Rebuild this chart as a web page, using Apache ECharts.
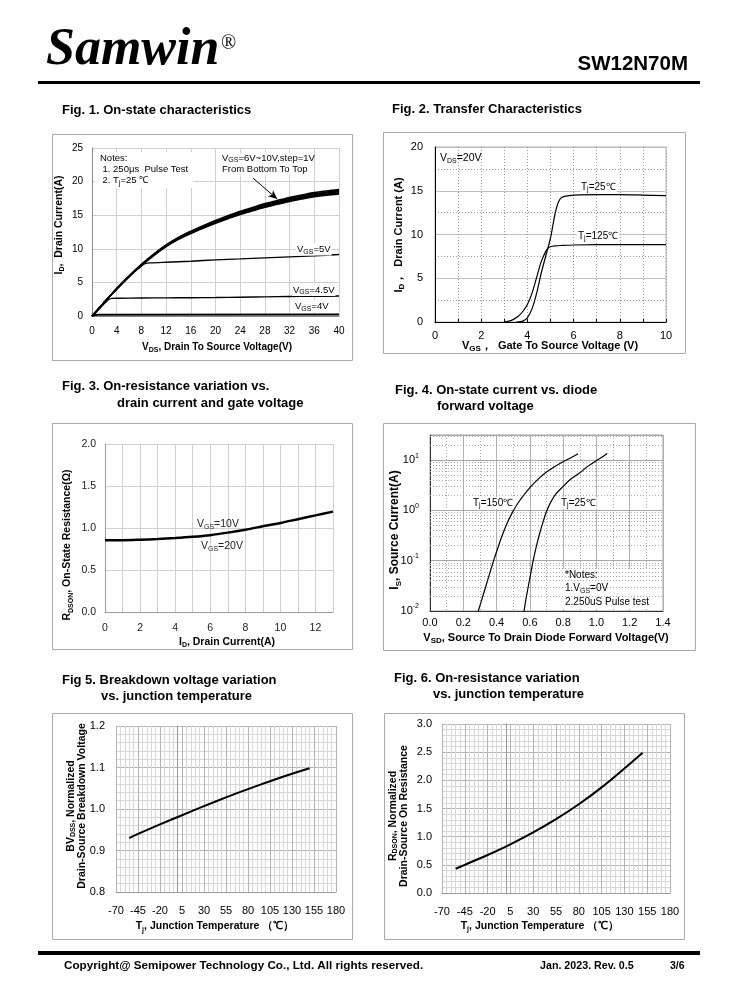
<!DOCTYPE html>
<html><head><meta charset="utf-8">
<script src="https://cdn.jsdelivr.net/npm/echarts/dist/echarts.min.js"></script>
<style>html,body{margin:0;padding:0;background:#fff}#c{width:738px;height:1000px}</style>
</head><body><div id="c"></div>
<script>
const FONT = 'Liberation Sans';
// ---------- Fig 1: On-state characteristics ----------
const f1Vds = [0,1,2,3,4,6,8,10,12,14,16,18,20,22,24,26,28,30,32,34,36,38,40];
const f1Vgs6  = [0,1.0,2.05,3.05,4.03,5.86,7.53,9.0,10.33,11.41,12.29,13.07,13.8,14.48,15.12,15.65,16.18,16.62,17.06,17.4,17.74,17.99,18.18];
const f1Vgs7  = [0,1.0,2.05,3.05,4.04,5.88,7.57,9.05,10.39,11.48,12.37,13.16,13.9,14.59,15.23,15.77,16.31,16.76,17.2,17.55,17.9,18.14,18.34];
const f1Vgs8  = [0,1.0,2.05,3.05,4.05,5.9,7.6,9.1,10.45,11.55,12.45,13.25,14.0,14.7,15.35,15.9,16.45,16.9,17.35,17.7,18.05,18.3,18.5];
const f1Vgs9  = [0,1.0,2.05,3.05,4.06,5.92,7.63,9.15,10.51,11.62,12.53,13.34,14.1,14.81,15.47,16.03,16.59,17.04,17.5,17.85,18.2,18.46,18.66];
const f1Vgs10 = [0,1.0,2.05,3.05,4.07,5.94,7.67,9.2,10.57,11.69,12.61,13.43,14.2,14.92,15.58,16.15,16.72,17.18,17.64,18.0,18.36,18.61,18.82];
const f1Vds5 = [0,2,4,6,8,8.6,9.5,12,16,20,24,28,32,36,40];
const f1Vgs5 = [0,2.05,4.0,5.85,7.45,7.8,7.9,8.0,8.15,8.35,8.5,8.65,8.8,8.95,9.15];
const f1Vds45 = [0,1,2,2.6,3.2,4,8,12,16,20,24,28,32,36,40];
const f1Vgs45 = [0,0.9,1.85,2.4,2.62,2.65,2.68,2.7,2.72,2.75,2.8,2.85,2.9,2.93,2.97];
const f1Vds4 = [0,0.5,1,40];
const f1Vgs4 = [0,0.15,0.2,0.22];
const f1Arrow = [[26.1,20.5],[30.0,17.4]];
// ---------- Fig 2: Transfer characteristics ----------
const f2Vgs25 = [3.54,3.8,4.0,4.2,4.4,4.6,4.8,5.0,5.1,5.2,5.3,5.4,5.5,5.6,5.8,6.0,7,8,9,10];
const f2Id25  = [0,0.1,0.5,1.5,3.3,5.6,7.6,9.6,11.0,12.4,13.4,14.0,14.25,14.35,14.45,14.5,14.55,14.55,14.5,14.45];
const f2Vgs125 = [2.99,3.2,3.4,3.6,3.8,4.0,4.2,4.4,4.6,4.8,4.9,5.0,5.2,5.5,6,8,10];
const f2Id125  = [0,0.1,0.3,0.65,1.2,2.0,3.3,5.1,6.9,8.1,8.45,8.6,8.7,8.75,8.8,8.85,8.85];
// ---------- Fig 3: Rdson vs Id ----------
const f3Id = [0,1,2,3,4,5,6,7,8,9,10,11,12,13];
const f3R  = [0.855,0.855,0.86,0.868,0.88,0.895,0.915,0.945,0.98,1.02,1.06,1.105,1.15,1.195];
// ---------- Fig 4: diode forward ----------
const f4V150 = [0.29,0.32,0.35,0.38,0.41,0.44,0.47,0.50,0.53,0.56,0.60,0.65,0.70,0.75,0.80,0.85,0.89];
const f4I150 = [0.01,0.021,0.045,0.095,0.19,0.36,0.62,0.98,1.42,1.95,2.85,4.2,5.8,7.5,9.3,11.3,13.4];
const f4V25 = [0.565,0.58,0.60,0.62,0.64,0.66,0.68,0.70,0.72,0.75,0.80,0.85,0.90,0.95,1.00,1.05,1.065];
const f4I25 = [0.01,0.02,0.045,0.1,0.2,0.36,0.6,0.95,1.35,2.0,3.0,4.3,5.6,7.6,9.8,12.5,13.5];
const f4MinorLog = [0.02,0.03,0.04,0.05,0.06,0.07,0.08,0.09,0.2,0.3,0.4,0.5,0.6,0.7,0.8,0.9,2,3,4,5,6,7,8,9,20,30];
// ---------- Fig 5: BVdss vs Tj ----------
const f5T = [-55,-45,-20,5,30,55,80,105,130,150];
const f5BV = [0.930,0.940,0.963,0.985,1.007,1.028,1.048,1.067,1.085,1.098];
// ---------- Fig 6: Rdson vs Tj ----------
const f6T = [-55,-45,-20,5,30,55,80,105,130,150];
const f6R = [0.43,0.50,0.675,0.865,1.075,1.31,1.575,1.875,2.21,2.49];

const zip = (xs, ys) => xs.map((x, i) => [x, ys[i]]);

function txt(x, y, text, size, o) {
  o = o || {};
  const w = o.bold ? 'bold' : 'normal';
  const fam = o.family || FONT;
  const col = o.color || '#000';
  const ss = Math.round(size * 0.7);
  const st = {
    text: text, fontSize: size, fontWeight: w, fontFamily: fam,
    fontStyle: o.italic ? 'italic' : 'normal', fill: col,
    align: o.align || 'left', verticalAlign: o.va || 'middle',
    lineHeight: o.lh || Math.round(size * 1.3),
    rich: {
      s: {fontSize: ss, fontWeight: w, fontFamily: fam, fill: col, verticalAlign: 'bottom', lineHeight: ss}
    }
  };
  if (o.bg) { st.backgroundColor = o.bg; st.padding = o.pad || [0, 1]; }
  return {type: 'text', x: x, y: y, rotation: o.rot || 0, z: 20, style: st};
}
function box(x, y, w, h) {
  return {type: 'rect', z: 4, shape: {x: x + 0.5, y: y + 0.5, width: w, height: h},
    style: {fill: 'none', stroke: '#aaaaaa', lineWidth: 1}};
}
function white(x, y, w, h) {
  return {type: 'rect', z: 5, shape: {x: x, y: y, width: w, height: h}, style: {fill: '#fff'}};
}
const R90 = Math.PI / 2;

const grids = [
  {left: 92, top: 148, width: 247, height: 168},
  {left: 435, top: 147, width: 231, height: 175, show: true, borderColor: '#b0b0b0', borderWidth: 1},
  {left: 105, top: 444, width: 228, height: 168},
  {left: 430, top: 435, width: 233, height: 176, show: true, borderColor: '#a0a0a0', borderWidth: 1},
  {left: 116, top: 726, width: 220, height: 166},
  {left: 442, top: 724, width: 228, height: 169}
];
const lab = (size, margin, extra) => Object.assign({fontFamily: FONT, fontSize: size, color: '#000', margin: margin}, extra || {});
const solid = c => ({show: true, lineStyle: {color: c, width: 1, type: 'solid'}});
const dotted = c => ({show: true, lineStyle: {color: c, width: 1, type: [1, 2]}});
const even = v => (Math.round(v) % 2 === 0 ? String(v) : '');
const fix1 = v => v.toFixed(1);

const xAxes = [
  {gridIndex: 0, type: 'value', min: 0, max: 40, interval: 4, axisLine: {lineStyle: {color: '#888'}}, axisTick: {show: false}, axisLabel: lab(10, 10), splitLine: solid('#d0d0d0')},
  {gridIndex: 1, type: 'value', min: 0, max: 10, interval: 1, axisLine: {lineStyle: {color: '#000'}}, axisTick: {show: true, inside: true, length: 3, lineStyle: {color: '#000'}}, axisLabel: lab(11, 8, {formatter: even}), splitLine: dotted('#999')},
  {gridIndex: 2, type: 'value', min: 0, max: 13, interval: 1, axisLine: {lineStyle: {color: '#999'}}, axisTick: {show: false}, axisLabel: lab(10.5, 11, {formatter: even, color: '#222'}), splitLine: solid('#d0d0d0')},
  {gridIndex: 3, type: 'value', min: 0, max: 1.4, interval: 0.2, axisLine: {lineStyle: {color: '#333'}}, axisTick: {show: false}, axisLabel: lab(11, 6, {formatter: fix1}), splitLine: solid('#b0b0b0'), minorTick: {show: false, splitNumber: 2}, minorSplitLine: dotted('#aaa')},
  {gridIndex: 4, type: 'value', min: -70, max: 180, interval: 25, axisLine: {lineStyle: {color: '#999'}}, axisTick: {show: false}, axisLabel: lab(11, 13), splitLine: solid('#b4b4b4'), minorTick: {show: false, splitNumber: 5}, minorSplitLine: solid('#d8d8d8')},
  {gridIndex: 5, type: 'value', min: -70, max: 180, interval: 25, axisLine: {lineStyle: {color: '#999'}}, axisTick: {show: false}, axisLabel: lab(11, 13), splitLine: solid('#b4b4b4'), minorTick: {show: false, splitNumber: 5}, minorSplitLine: solid('#d8d8d8')}
];
const yAxes = [
  {gridIndex: 0, type: 'value', min: 0, max: 25, interval: 5, axisLine: {show: true, lineStyle: {color: '#888'}}, axisTick: {show: false}, axisLabel: lab(10, 9), splitLine: solid('#d0d0d0')},
  {gridIndex: 1, type: 'value', min: 0, max: 20, interval: 5, axisLine: {show: true, lineStyle: {color: '#000'}}, axisTick: {show: false}, axisLabel: lab(11, 12), splitLine: solid('#c0c0c0'), minorTick: {show: false, splitNumber: 2}, minorSplitLine: dotted('#999')},
  {gridIndex: 2, type: 'value', min: 0, max: 2, interval: 0.5, axisLine: {show: true, lineStyle: {color: '#999'}}, axisTick: {show: false}, axisLabel: lab(10.5, 9, {formatter: fix1, color: '#222'}), splitLine: solid('#d0d0d0')},
  {gridIndex: 3, type: 'log', logBase: 10, min: 0.01, max: 31.62, axisLine: {show: true, lineStyle: {color: '#333'}}, axisTick: {show: false},
    axisLabel: lab(11, 11, {lineHeight: 16, formatter: v => { const e = Math.log10(v); if (Math.abs(e - Math.round(e)) > 1e-6) return ''; return '10{sup|' + Math.round(e) + '}'; },
      rich: {sup: {fontSize: 7, fontFamily: FONT, color: '#000', verticalAlign: 'top', lineHeight: 7}}}),
    splitLine: solid('#a8a8a8')},
  {gridIndex: 4, type: 'value', min: 0.8, max: 1.2, interval: 0.1, axisLine: {show: true, lineStyle: {color: '#999'}}, axisTick: {show: false}, axisLabel: lab(11, 11, {formatter: fix1}), splitLine: solid('#b4b4b4'), minorTick: {show: false, splitNumber: 5}, minorSplitLine: solid('#d8d8d8')},
  {gridIndex: 5, type: 'value', min: 0, max: 3, interval: 0.5, axisLine: {show: true, lineStyle: {color: '#999'}}, axisTick: {show: false}, axisLabel: lab(11, 10, {formatter: fix1}), splitLine: solid('#b4b4b4'), minorTick: {show: false, splitNumber: 5}, minorSplitLine: solid('#d8d8d8')}
];

function line(idx, data, width, extra) {
  return Object.assign({type: 'line', xAxisIndex: idx, yAxisIndex: idx, data: data, symbol: 'none', smooth: 0.3,
    z: 10, silent: true, animation: false, lineStyle: {color: '#000', width: width}}, extra || {});
}

const series = [
  line(0, zip(f1Vds, f1Vgs6), 1.6),
  line(0, zip(f1Vds, f1Vgs7), 1.6),
  line(0, zip(f1Vds, f1Vgs8), 1.6),
  line(0, zip(f1Vds, f1Vgs9), 1.6),
  line(0, zip(f1Vds, f1Vgs10), 1.6),
  line(0, zip(f1Vds5, f1Vgs5), 1.4, {smooth: 0.2}),
  line(0, zip(f1Vds45, f1Vgs45), 1.4, {smooth: 0.2}),
  line(0, zip(f1Vds4, f1Vgs4), 2, {smooth: false, markLine: {silent: true, symbol: ['none', 'arrow'], symbolSize: [6, 9], label: {show: false},
    lineStyle: {color: '#000', width: 1, type: 'solid'}, data: [[{coord: f1Arrow[0]}, {coord: f1Arrow[1]}]]}}),
  line(1, zip(f2Vgs25, f2Id25), 1.2),
  line(1, zip(f2Vgs125, f2Id125), 1.2),
  line(2, zip(f3Id, f3R), 2.5),
  {type: 'line', xAxisIndex: 3, yAxisIndex: 3, data: [], z: 1, silent: true, animation: false,
    markLine: {silent: true, symbol: 'none', label: {show: false}, lineStyle: {color: '#aaa', width: 1, type: [1, 2]},
      data: f4MinorLog.map(v => ({yAxis: v}))}},
  line(3, zip(f4V150, f4I150), 1.2),
  line(3, zip(f4V25, f4I25), 1.2),
  line(4, zip(f5T, f5BV), 2),
  line(5, zip(f6T, f6R), 2)
];

const graphics = [
  // header
  txt(46, 51, 'Samwin', 52, {bold: true, italic: true, family: 'Liberation Serif'}),
  txt(221, 44, '®', 20, {family: 'Liberation Serif'}),
  txt(688, 64, 'SW12N70M', 20.5, {bold: true, align: 'right'}),
  {type: 'rect', z: 20, shape: {x: 38, y: 81, width: 662, height: 3}, style: {fill: '#000'}},
  // figure titles
  txt(62, 110, 'Fig. 1. On-state characteristics', 13, {bold: true}),
  txt(392, 109, 'Fig. 2. Transfer Characteristics', 13, {bold: true}),
  txt(62, 386, 'Fig. 3. On-resistance variation vs.', 13, {bold: true}),
  txt(117, 403, 'drain current and gate voltage', 13, {bold: true}),
  txt(395, 390, 'Fig. 4. On-state current vs. diode', 13, {bold: true}),
  txt(437, 406, 'forward voltage', 13, {bold: true}),
  txt(62, 680, 'Fig 5. Breakdown voltage variation', 13, {bold: true}),
  txt(101, 696, 'vs. junction temperature', 13, {bold: true}),
  txt(394, 678, 'Fig. 6. On-resistance variation', 13, {bold: true}),
  txt(433, 694, 'vs. junction temperature', 13, {bold: true}),
  // frames
  box(52, 134, 300, 226), box(383, 132, 302, 221), box(52, 423, 300, 226),
  box(383, 423, 312, 227), box(52, 713, 300, 226), box(384, 713, 300, 226),
  // fig 1 annotations
  white(95, 152, 98, 36), white(220, 153, 91, 22),
  txt(100, 158.5, 'Notes:', 9.5),
  txt(102.5, 169.5, '1. 250μs  Pulse Test', 9.5),
  txt(102.5, 180.5, '2. T{s|j}=25 ℃', 9.5),
  txt(222, 158, 'V{s|GS}=6V~10V,step=1V', 9.5),
  txt(222, 169, 'From Bottom To Top', 9.5),
  txt(296, 249.5, 'V{s|GS}=5V', 9.5, {bg: '#fff'}),
  txt(292, 290, 'V{s|GS}=4.5V', 9.5, {bg: '#fff'}),
  txt(294, 306.5, 'V{s|GS}=4V', 9.5, {bg: '#fff'}),
  txt(59, 225, 'I{s|D},  Drain Current(A)', 10.5, {bold: true, rot: R90, align: 'center'}),
  txt(217, 347, 'V{s|DS}, Drain To Source Voltage(V)', 10, {bold: true, align: 'center'}),
  // fig 2 annotations
  txt(440, 158, 'V{s|DS}=20V', 10.5),
  txt(580, 187, 'T{s|j}=25℃', 10, {bg: '#fff', lh: 11}),
  txt(577, 236, 'T{s|j}=125℃', 10, {bg: '#fff', lh: 11}),
  txt(399, 235, 'I{s|D}，  Drain Current (A)', 11, {bold: true, rot: R90, align: 'center'}),
  txt(550, 346, 'V{s|GS}，  Gate To Source Voltage (V)', 11, {bold: true, align: 'center'}),
  // fig 3 annotations
  txt(197, 524, 'V{s|GS}=10V', 10.5, {color: '#222'}),
  txt(201, 546, 'V{s|GS}=20V', 10.5, {color: '#222'}),
  txt(67.5, 545, 'R{s|DSON}, On-State Resistance(Ω)', 10.5, {bold: true, rot: R90, align: 'center'}),
  txt(227, 642, 'I{s|D}, Drain Current(A)', 10.5, {bold: true, align: 'center'}),
  // fig 4 annotations
  white(563, 569, 95, 40),
  txt(472, 503, 'T{s|j}=150℃', 10, {bg: '#fff', lh: 12}),
  txt(560, 503, 'T{s|j}=25℃', 10, {bg: '#fff', lh: 12}),
  txt(565, 575, '*Notes:', 10),
  txt(565, 588.5, '1.V{s|GS}=0V', 10),
  txt(565, 602.5, '2.250uS Pulse test', 10),
  txt(395, 530, 'I{s|S}, Source Current(A)', 12, {bold: true, rot: R90, align: 'center'}),
  txt(546, 638, 'V{s|SD}, Source To Drain Diode Forward Voltage(V)', 11, {bold: true, align: 'center'}),
  // fig 5
  txt(77, 806, 'BV{s|DSS}, Normalized\nDrain-Source Breakdown Voltage', 10.5, {bold: true, rot: R90, align: 'center', lh: 11}),
  txt(215, 926.5, 'T{s|j}, Junction Temperature （℃）', 10.5, {bold: true, align: 'center'}),
  // fig 6
  txt(398.5, 816, 'R{s|DSON}, Normalized\nDrain-Source On Resistance', 10.5, {bold: true, rot: R90, align: 'center', lh: 11}),
  txt(540, 926, 'T{s|j}, Junction Temperature （℃）', 10.5, {bold: true, align: 'center'}),
  // footer
  {type: 'rect', z: 20, shape: {x: 38, y: 951, width: 662, height: 4}, style: {fill: '#000'}},
  txt(64, 966, 'Copyright@ Semipower Technology Co., Ltd. All rights reserved.', 11.7, {bold: true}),
  txt(540, 966, 'Jan. 2023. Rev. 0.5', 10.7, {bold: true}),
  txt(670, 966, '3/6', 10.5, {bold: true})
];

const chart = echarts.init(document.getElementById('c'), null, {renderer: 'canvas'});
chart.setOption({
  animation: false,
  backgroundColor: '#fff',
  textStyle: {fontFamily: FONT},
  grid: grids,
  xAxis: xAxes,
  yAxis: yAxes,
  series: series,
  graphic: {elements: graphics}
});
</script></body></html>
